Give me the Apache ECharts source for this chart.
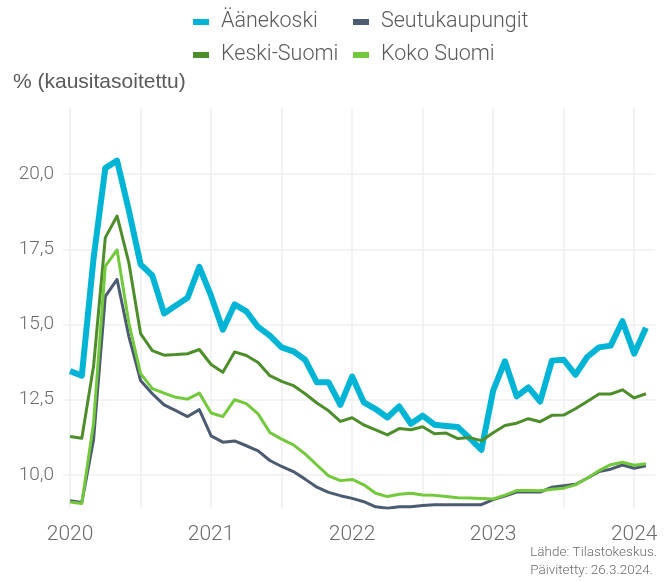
<!DOCTYPE html>
<html>
<head>
<meta charset="utf-8">
<script src="https://cdn.jsdelivr.net/npm/echarts@6/dist/echarts.min.js"></script>
<style>
  html, body { margin: 0; padding: 0; background: #fff; }
  #chart { width: 672px; height: 581px; }
</style>
</head>
<body>
<div id="chart"></div>
<script>
// monthly values, 2020-01 ... 2024-02
const aanekoski = [13.45, 13.3, 17.2, 20.2, 20.45, 18.8, 17.0, 16.63, 15.37, 15.63, 15.89, 16.92,
  15.95, 14.83, 15.67, 15.44, 14.92, 14.63, 14.24, 14.11, 13.83, 13.08, 13.08, 12.33,
  13.27, 12.41, 12.19, 11.91, 12.28, 11.7, 11.97, 11.67, 11.63, 11.59, 11.22, 10.83,
  12.8, 13.78, 12.61, 12.91, 12.44, 13.8, 13.83, 13.33, 13.92, 14.24, 14.3, 15.11,
  14.03, 14.89];
const seutukaupungit = [9.14, 9.08, 11.17, 15.94, 16.5, 14.61, 13.14, 12.7, 12.33, 12.14, 11.94, 12.17,
  11.3, 11.09, 11.13, 10.97, 10.8, 10.48, 10.28, 10.11, 9.86, 9.59, 9.42, 9.31,
  9.22, 9.11, 8.94, 8.89, 8.94, 8.94, 8.98, 9.01, 9.01, 9.01, 9.01, 9.01,
  9.18, 9.3, 9.43, 9.43, 9.43, 9.59, 9.64, 9.69, 9.89, 10.11, 10.19, 10.33,
  10.22, 10.3];
const keskiSuomi = [11.28, 11.22, 13.61, 17.89, 18.61, 17.06, 14.7, 14.13, 13.98, 14.0, 14.03, 14.17,
  13.67, 13.41, 14.09, 13.97, 13.74, 13.3, 13.11, 12.97, 12.7, 12.39, 12.13, 11.78,
  11.9, 11.66, 11.5, 11.33, 11.54, 11.5, 11.6, 11.37, 11.39, 11.21, 11.24, 11.14,
  11.4, 11.64, 11.72, 11.87, 11.77, 11.98, 11.99, 12.2, 12.44, 12.69, 12.69, 12.83,
  12.56, 12.7];
const kokoSuomi = [9.1, 9.05, 11.72, 16.94, 17.48, 15.06, 13.37, 12.87, 12.72, 12.58, 12.52, 12.72,
  12.06, 11.94, 12.5, 12.37, 12.03, 11.41, 11.19, 11.0, 10.7, 10.33, 9.97, 9.81,
  9.85, 9.67, 9.39, 9.28, 9.36, 9.39, 9.33, 9.32, 9.28, 9.24, 9.23, 9.22,
  9.2, 9.33, 9.48, 9.48, 9.47, 9.52, 9.56, 9.67, 9.89, 10.14, 10.34, 10.42,
  10.32, 10.37];

const yearLabels = ['2020', '2021', '2022', '2023', '2024'];
const yearTicks = [0, 12, 24, 36, 48];            // month index of each year label
const halfYearTicks = [0, 6, 12, 18, 24, 30, 36, 42, 48];
const yTicks = [10, 12.5, 15, 17.5, 20];

const labelFont = 'Roboto';
const grey = '#6b6b6b';

function toPairs(arr) {
  return arr.map((v, i) => [i, v]);
}

const chart = echarts.init(document.getElementById('chart'));

const seriesDefs = [
  { name: 'Äänekoski', data: aanekoski, color: '#00b4d6', width: 6 },
  { name: 'Seutukaupungit', data: seutukaupungit, color: '#4b5b72', width: 3 },
  { name: 'Keski-Suomi', data: keskiSuomi, color: '#4e8e2a', width: 3 },
  { name: 'Koko Suomi', data: kokoSuomi, color: '#72c93b', width: 3 }
];

const legendText = {
  fontFamily: labelFont,
  fontWeight: 300,
  fontSize: 21.5,
  color: '#5a5a5a',
  padding: [0, 0, 0, 7],
  lineHeight: 22
};

const option = {
  animation: false,
  backgroundColor: '#fff',
  grid: { left: 63, right: 17, top: 108, bottom: 73, outerBoundsMode: 'none' },
  legend: [
    {
      orient: 'vertical', left: 188, top: 6,
      data: ['Äänekoski', 'Keski-Suomi'],
      icon: 'rect', itemWidth: 16, itemHeight: 6, itemGap: 11,
      textStyle: legendText
    },
    {
      orient: 'vertical', left: 348, top: 6,
      data: ['Seutukaupungit', 'Koko Suomi'],
      icon: 'rect', itemWidth: 16, itemHeight: 6, itemGap: 11,
      textStyle: legendText
    }
  ],
  graphic: [
    {
      type: 'text', left: 13, top: 72,
      style: { text: '% (kausitasoitettu)', fontFamily: 'Liberation Sans', fontSize: 21, fill: '#5a5a5a' }
    },
    {
      type: 'text', right: 15, top: 544,
      style: {
        text: 'Lähde: Tilastokeskus.\nPäivitetty: 26.3.2024.',
        align: 'right', fontFamily: labelFont, fontWeight: 300, fontSize: 13.5, lineHeight: 18, fill: '#6b6b6b'
      }
    }
  ],
  xAxis: {
    type: 'value',
    min: -0.6,
    max: 49.77,
    axisLine: { show: false },
    axisTick: { show: false, customValues: halfYearTicks },
    axisLabel: {
      customValues: yearTicks,
      formatter: v => yearLabels[yearTicks.indexOf(v)],
      fontFamily: labelFont, fontWeight: 300, fontSize: 21, color: grey, margin: 16
    },
    splitLine: { show: true, lineStyle: { color: '#efefef', width: 1.5 } }
  },
  yAxis: {
    type: 'value',
    min: 8.9,
    max: 22.2,
    axisLine: { show: false },
    axisTick: { show: false, customValues: yTicks },
    axisLabel: {
      customValues: yTicks,
      formatter: v => v.toFixed(1).replace('.', ','),
      fontFamily: labelFont, fontWeight: 300, fontSize: 19, color: grey, margin: 9
    },
    splitLine: { show: true, lineStyle: { color: '#efefef', width: 1.5 } }
  },
  series: seriesDefs.map(s => ({
    name: s.name,
    type: 'line',
    data: toPairs(s.data),
    showSymbol: false,
    symbol: 'none',
    color: s.color,
    lineStyle: { width: s.width, color: s.color, join: 'round' }
  }))
};

chart.setOption(option);
</script>
</body>
</html>
